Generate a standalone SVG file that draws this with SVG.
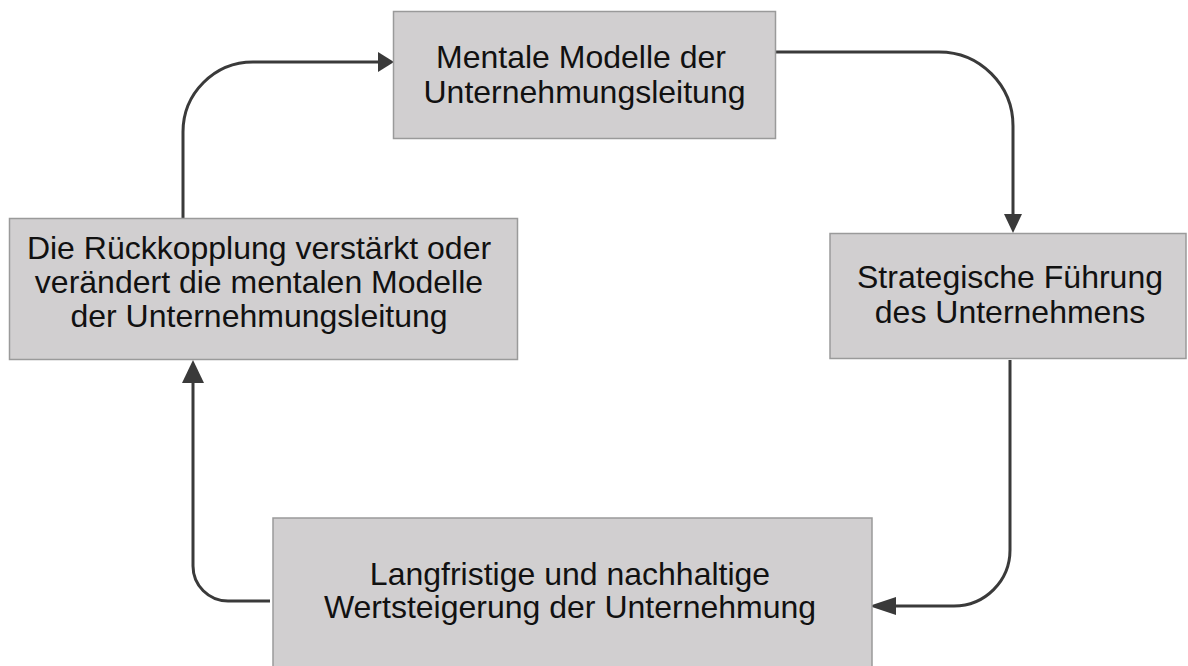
<svg xmlns="http://www.w3.org/2000/svg" width="1188" height="666" viewBox="0 0 1188 666">
<style>
.box{fill:#d1cfd0;stroke:#9a9a9a;stroke-width:1.5}
.lbl{font-family:"Liberation Sans",Arial,sans-serif;font-size:32px;fill:#111;text-anchor:middle}
.edge{fill:none;stroke:#3a3a3a;stroke-width:3}
.head{fill:#3a3a3a;stroke:none}
</style>
<rect width="1188" height="666" fill="#ffffff"/>
<g id="connectors">
<path class="edge" d="M776,52 H939 A74,74 0 0 1 1013,126 V214"/>
<polygon class="head" points="1004,214 1022,214 1013,233"/>
<path class="edge" d="M1010,360 V550 A56,56 0 0 1 954,606 H895"/>
<polygon class="head" points="896,597 896,615 869,606"/>
<path class="edge" d="M270,601 H228 A35,35 0 0 1 193,566 V382"/>
<polygon class="head" points="182,383 204,383 193,360"/>
<path class="edge" d="M183,220 V132 A70,70 0 0 1 253,62 H379"/>
<polygon class="head" points="378,52 378,72 394,62"/>
</g>
<g id="node-mentale">
<rect class="box" x="393.5" y="11.5" width="382" height="127"/>
<text class="lbl" x="581" y="68">Mentale Modelle der</text>
<text class="lbl" x="584.5" y="103">Unternehmungsleitung</text>
</g>
<g id="node-strategische">
<rect class="box" x="830" y="233.5" width="356" height="125"/>
<text class="lbl" x="1010" y="288">Strategische Führung</text>
<text class="lbl" x="1010" y="323">des Unternehmens</text>
</g>
<g id="node-wertsteigerung">
<rect class="box" x="273" y="518" width="599" height="160"/>
<text class="lbl" x="570" y="585">Langfristige und nachhaltige</text>
<text class="lbl" x="570" y="618">Wertsteigerung der Unternehmung</text>
</g>
<g id="node-rueckkopplung">
<rect class="box" x="9.5" y="218.5" width="508" height="141"/>
<text class="lbl" x="259" y="259">Die Rückkopplung verstärkt oder</text>
<text class="lbl" x="259" y="293">verändert die mentalen Modelle</text>
<text class="lbl" x="259" y="327">der Unternehmungsleitung</text>
</g>
</svg>
